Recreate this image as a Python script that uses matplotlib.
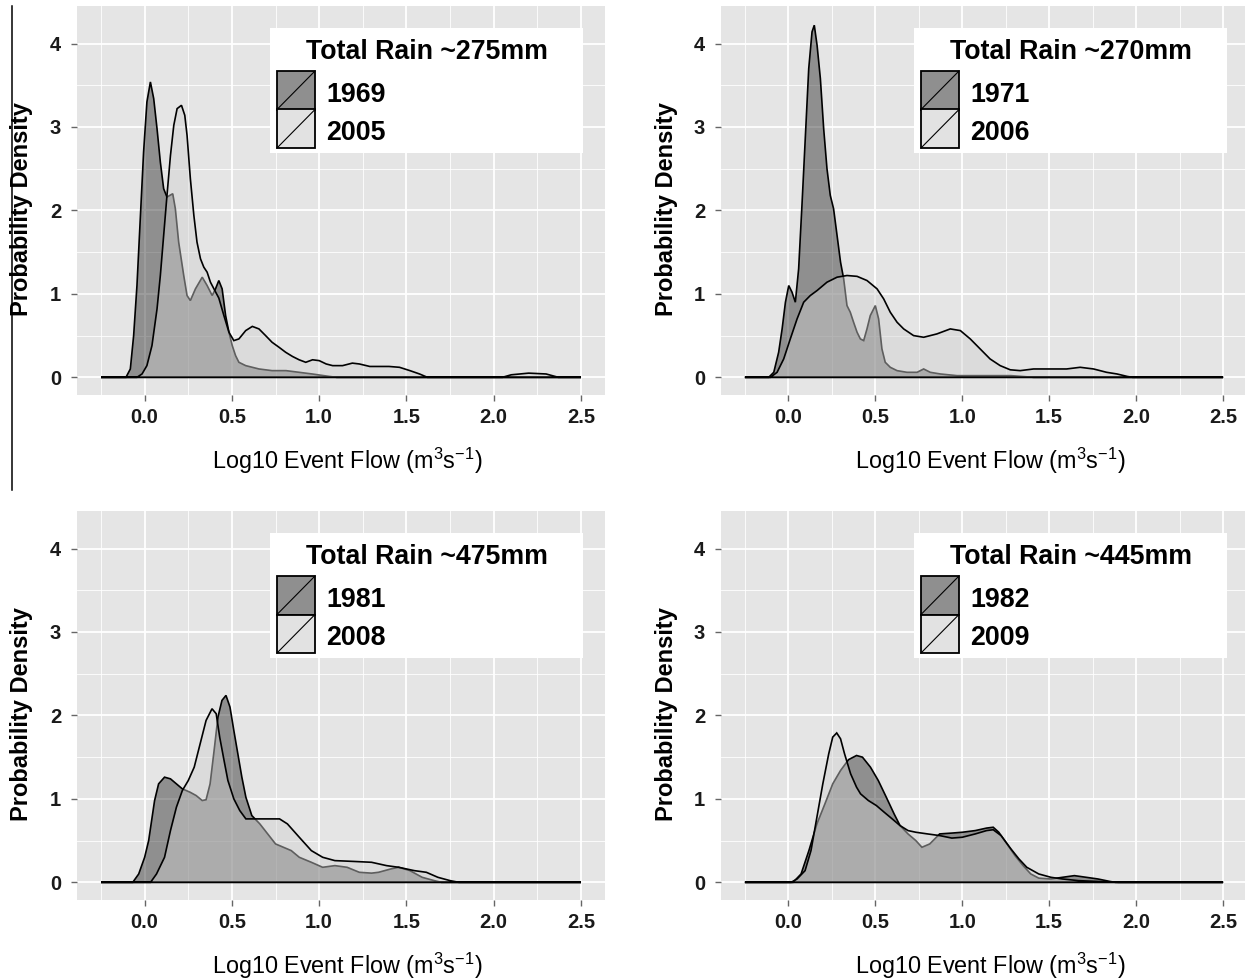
import matplotlib
matplotlib.use("Agg")
import matplotlib.pyplot as plt
from matplotlib.patches import Rectangle
from matplotlib.lines import Line2D

plt.rcParams['font.family'] = ['Liberation Sans', 'DejaVu Sans']
plt.rcParams['mathtext.fontset'] = 'custom'
plt.rcParams['mathtext.rm'] = 'Liberation Sans'
plt.rcParams['mathtext.it'] = 'Liberation Sans:italic'
plt.rcParams['mathtext.bf'] = 'Liberation Sans:bold'

# ---------------- data ----------------
rain_titles = ["Total Rain ~275mm", "Total Rain ~270mm", "Total Rain ~475mm", "Total Rain ~445mm"]
years_old = ["1969", "1971", "1981", "1982"]
years_new = ["2005", "2006", "2008", "2009"]

x_1969 = [-0.25, -0.107, -0.082, -0.063, -0.044, -0.025, -0.006, 0.013, 0.033, 0.052, 0.071, 0.09, 0.109,
          0.128, 0.144, 0.161, 0.176, 0.195, 0.224, 0.243, 0.262, 0.291, 0.33, 0.358, 0.387, 0.406, 0.425,
          0.444, 0.464, 0.483, 0.502, 0.521, 0.54, 0.579, 0.655, 0.73, 0.81, 0.885, 0.96, 1.06, 1.1, 2.5]
y_1969 = [0, 0, 0.1, 0.5, 1.1, 1.9, 2.7, 3.3, 3.54, 3.34, 2.98, 2.58, 2.26,
          2.16, 2.18, 2.2, 2.02, 1.62, 1.22, 0.98, 0.92, 1.06, 1.2, 1.1, 0.98, 1.06, 1.16,
          1.06, 0.74, 0.54, 0.38, 0.26, 0.18, 0.14, 0.1, 0.08, 0.08, 0.06, 0.04, 0.01, 0, 0]

x_2005 = [-0.25, -0.044, -0.015, 0.013, 0.042, 0.071, 0.09, 0.109, 0.128, 0.148, 0.167, 0.186, 0.211, 0.23,
          0.243, 0.262, 0.282, 0.3, 0.32, 0.339, 0.358, 0.377, 0.397, 0.425, 0.454, 0.483, 0.511, 0.54,
          0.579, 0.617, 0.655, 0.693, 0.73, 0.77, 0.808, 0.847, 0.885, 0.923, 0.962, 1.0, 1.04, 1.077,
          1.134, 1.19, 1.23, 1.29, 1.345, 1.4, 1.46, 1.52, 1.575, 1.62, 2.05, 2.1, 2.2, 2.3, 2.37, 2.5]
y_2005 = [0, 0, 0.04, 0.14, 0.38, 0.82, 1.22, 1.7, 2.18, 2.66, 3.02, 3.22, 3.26, 3.14,
          2.9, 2.38, 1.94, 1.62, 1.42, 1.32, 1.26, 1.14, 1.06, 0.95, 0.74, 0.54, 0.44, 0.46,
          0.56, 0.61, 0.58, 0.5, 0.42, 0.36, 0.3, 0.25, 0.21, 0.18, 0.21, 0.2, 0.16, 0.14,
          0.14, 0.17, 0.16, 0.13, 0.13, 0.13, 0.12, 0.08, 0.04, 0, 0, 0.03, 0.05, 0.04, 0, 0]

x_1971 = [-0.25, -0.113, -0.084, -0.056, -0.036, -0.017, 0.002, 0.021, 0.04, 0.059, 0.079, 0.098, 0.117,
          0.136, 0.149, 0.165, 0.184, 0.203, 0.222, 0.241, 0.26, 0.28, 0.3, 0.318, 0.337, 0.356, 0.375,
          0.395, 0.414, 0.433, 0.452, 0.471, 0.5, 0.519, 0.538, 0.557, 0.586, 0.625, 0.682, 0.74, 0.778,
          0.816, 0.874, 0.97, 1.12, 1.28, 1.41, 2.5]
y_1971 = [0, 0, 0.06, 0.3, 0.58, 0.9, 1.1, 1.02, 0.9, 1.3, 2.1, 2.9, 3.7,
          4.14, 4.22, 3.98, 3.58, 2.98, 2.5, 2.18, 2.02, 1.7, 1.38, 1.18, 0.86, 0.78, 0.66,
          0.54, 0.46, 0.44, 0.58, 0.74, 0.86, 0.7, 0.34, 0.18, 0.12, 0.08, 0.06, 0.06, 0.1,
          0.06, 0.04, 0.02, 0.02, 0.02, 0, 0]

x_2006 = [-0.25, -0.103, -0.065, -0.027, 0.011, 0.05, 0.088, 0.126, 0.165, 0.222, 0.28, 0.337, 0.395,
          0.452, 0.51, 0.548, 0.586, 0.625, 0.663, 0.72, 0.778, 0.854, 0.931, 0.989, 1.046, 1.103, 1.16,
          1.218, 1.276, 1.333, 1.41, 1.506, 1.6, 1.678, 1.755, 1.83, 1.89, 1.95, 1.98, 2.5]
y_2006 = [0, 0, 0.06, 0.22, 0.46, 0.7, 0.9, 0.98, 1.04, 1.14, 1.2, 1.22, 1.21,
          1.16, 1.06, 0.94, 0.78, 0.66, 0.58, 0.5, 0.48, 0.52, 0.58, 0.56, 0.46, 0.34, 0.22,
          0.14, 0.09, 0.08, 0.1, 0.1, 0.1, 0.12, 0.1, 0.06, 0.04, 0.01, 0, 0]

x_1981 = [-0.25, -0.068, -0.034, 0.0, 0.023, 0.057, 0.08, 0.114, 0.148, 0.182, 0.216, 0.26, 0.295, 0.33,
          0.352, 0.375, 0.398, 0.42, 0.443, 0.466, 0.489, 0.511, 0.534, 0.557, 0.58, 0.614, 0.66, 0.705,
          0.75, 0.795, 0.84, 0.886, 0.955, 1.02, 1.09, 1.16, 1.23, 1.3, 1.34, 1.41, 1.455, 1.52, 1.59,
          1.66, 1.7, 2.5]
y_1981 = [0, 0, 0.1, 0.3, 0.5, 0.98, 1.18, 1.26, 1.24, 1.18, 1.12, 1.08, 1.04, 0.98,
          0.99, 1.18, 1.58, 1.98, 2.18, 2.24, 2.1, 1.82, 1.54, 1.26, 1.02, 0.8, 0.7, 0.58,
          0.46, 0.42, 0.38, 0.3, 0.24, 0.18, 0.2, 0.18, 0.12, 0.11, 0.12, 0.16, 0.18, 0.14, 0.06,
          0.02, 0, 0]

x_2008 = [-0.25, 0.034, 0.068, 0.114, 0.148, 0.182, 0.216, 0.25, 0.284, 0.318, 0.352, 0.386, 0.41, 0.43,
          0.455, 0.477, 0.511, 0.545, 0.58, 0.636, 0.705, 0.773, 0.818, 0.886, 0.955, 1.02, 1.09, 1.2,
          1.3, 1.386, 1.455, 1.545, 1.614, 1.68, 1.75, 1.8, 2.5]
y_2008 = [0, 0, 0.1, 0.3, 0.62, 0.9, 1.1, 1.22, 1.38, 1.66, 1.94, 2.08, 2.02, 1.74,
          1.46, 1.22, 1.0, 0.86, 0.76, 0.76, 0.76, 0.76, 0.7, 0.54, 0.38, 0.3, 0.26, 0.25,
          0.24, 0.2, 0.18, 0.14, 0.12, 0.06, 0.02, 0, 0]

x_1982 = [-0.25, 0.027, 0.073, 0.118, 0.164, 0.21, 0.255, 0.3, 0.346, 0.392, 0.426, 0.472, 0.517, 0.563,
          0.608, 0.642, 0.688, 0.733, 0.768, 0.813, 0.87, 0.94, 1.0, 1.075, 1.14, 1.178, 1.21, 1.257,
          1.303, 1.35, 1.394, 1.44, 1.51, 1.576, 1.645, 1.713, 1.78, 1.85, 1.88, 2.5]
y_1982 = [0, 0, 0.1, 0.38, 0.7, 0.94, 1.18, 1.34, 1.47, 1.52, 1.5, 1.38, 1.22, 1.02,
          0.82, 0.68, 0.58, 0.5, 0.42, 0.46, 0.58, 0.59, 0.6, 0.62, 0.65, 0.66, 0.6, 0.46,
          0.32, 0.2, 0.1, 0.05, 0.04, 0.06, 0.08, 0.06, 0.04, 0.01, 0, 0]

x_2009 = [-0.25, 0.016, 0.05, 0.096, 0.13, 0.164, 0.198, 0.232, 0.255, 0.278, 0.3, 0.323, 0.358, 0.392,
          0.415, 0.46, 0.506, 0.551, 0.597, 0.642, 0.688, 0.733, 0.8, 0.87, 0.94, 1.0, 1.075, 1.14,
          1.178, 1.223, 1.28, 1.326, 1.371, 1.44, 1.51, 1.576, 1.668, 1.78, 1.9, 2.5]
y_2009 = [0, 0, 0.04, 0.14, 0.38, 0.78, 1.18, 1.54, 1.74, 1.79, 1.72, 1.54, 1.3, 1.14,
          1.06, 0.98, 0.92, 0.84, 0.76, 0.68, 0.62, 0.6, 0.58, 0.56, 0.53, 0.54, 0.58, 0.62,
          0.63, 0.56, 0.4, 0.28, 0.18, 0.1, 0.06, 0.04, 0.02, 0.01, 0, 0]

x_ticks = [0.0, 0.5, 1.0, 1.5, 2.0, 2.5]
x_tick_labels = ["0.0", "0.5", "1.0", "1.5", "2.0", "2.5"]
y_ticks = [0, 1, 2, 3, 4]
y_tick_labels = ["0", "1", "2", "3", "4"]
x_minor = [-0.25, 0.25, 0.75, 1.25, 1.75, 2.25]
y_minor = [0.5, 1.5, 2.5, 3.5]
x_label = r"Log10 Event Flow (m$^3$s$^{-1}$)"
y_label = "Probability Density"

panels = [
    (rain_titles[0], years_old[0], years_new[0], x_1969, y_1969, x_2005, y_2005),
    (rain_titles[1], years_old[1], years_new[1], x_1971, y_1971, x_2006, y_2006),
    (rain_titles[2], years_old[2], years_new[2], x_1981, y_1981, x_2008, y_2008),
    (rain_titles[3], years_old[3], years_new[3], x_1982, y_1982, x_2009, y_2009),
]

# ---------------- style / layout ----------------
W, H = 1245, 980
DPI = 100
BG = '#e5e5e5'
DARK = (40/255, 40/255, 40/255, 0.45)
LIGHT = (209/255, 209/255, 209/255, 0.45)
KEY_DARK = '#8f8f8f'
KEY_LIGHT = '#e2e2e2'

# axes rectangles in pixels: (left, top, width, height)
rects = [(77, 6, 528, 389), (721, 6, 526, 389), (77, 511, 528, 389), (721, 511, 526, 389)]

fig = plt.figure(figsize=(W / DPI, H / DPI), dpi=DPI)
fig.patch.set_facecolor('white')

for (title, lab_old, lab_new, xo, yo, xn, yn), (l, t, w, h) in zip(panels, rects):
    ax = fig.add_axes([l / W, 1 - (t + h) / H, w / W, h / H])
    ax.set_facecolor(BG)
    for s in ax.spines.values():
        s.set_visible(False)
    ax.set_xlim(-0.3875, 2.6375)
    ax.set_ylim(-0.212, 4.45)

    # grid
    for xv in x_minor:
        ax.axvline(xv, color='white', lw=0.6, zorder=0.5)
    for yv in y_minor:
        ax.axhline(yv, color='white', lw=0.6, zorder=0.5)
    for xv in x_ticks:
        ax.axvline(xv, color='white', lw=1.3, zorder=0.6)
    for yv in y_ticks:
        ax.axhline(yv, color='white', lw=1.3, zorder=0.6)

    ax.fill(xo, yo, facecolor=DARK, edgecolor='black', lw=1.2, zorder=2)
    ax.fill(xn, yn, facecolor=LIGHT, edgecolor='black', lw=1.2, zorder=3)

    ax.set_xticks(x_ticks)
    ax.set_xticklabels(x_tick_labels, fontsize=14.5, fontweight='bold', color='#1a1a1a')
    ax.set_yticks(y_ticks)
    ax.set_yticklabels(y_tick_labels, fontsize=14.5, fontweight='bold', color='#1a1a1a')
    ax.tick_params(axis='both', direction='out', length=4.5, width=1.0, color='#666666')
    ax.tick_params(axis='x', pad=5)
    ax.tick_params(axis='y', pad=7)

    # axis titles
    fig.text((l + w / 2 + 6) / W, 1 - (t + h + 66) / H, x_label, ha='center', va='center', fontsize=16.8)
    fig.text((l - 55) / W, 1 - (t + h / 2 + 9) / H, y_label, ha='center', va='center',
             rotation=90, fontsize=17, fontweight='bold')

    # legend drawn in axes pixel offsets
    def fx(px):
        return px / w

    def fy(py):
        return 1 - py / h

    bl, bt, bw, bh = 193, 22, 313, 125
    ax.add_patch(Rectangle((fx(bl), fy(bt + bh)), fx(bw), bh / h, transform=ax.transAxes,
                           facecolor='white', edgecolor='none', zorder=5, clip_on=False))
    ax.text(fx(bl + bw / 2), fy(bt + 31.3), title, transform=ax.transAxes, ha='center',
            va='baseline', fontsize=19.3, fontweight='bold', zorder=6)
    for i, (lab, col) in enumerate([(lab_old, KEY_DARK), (lab_new, KEY_LIGHT)]):
        ktop = bt + 43 + i * 38.5
        kl = bl + 7
        ax.add_patch(Rectangle((fx(kl), fy(ktop + 38.5)), fx(38), 38.5 / h, transform=ax.transAxes,
                               facecolor=col, edgecolor='black', lw=1.3, zorder=6, clip_on=False))
        ax.add_line(Line2D([fx(kl), fx(kl + 38)], [fy(ktop + 38.5), fy(ktop)], transform=ax.transAxes,
                           color='black', lw=0.8, zorder=7, clip_on=False))
        ax.text(fx(bl + 56), fy(ktop + 30.5), lab, transform=ax.transAxes, ha='left', va='baseline',
                fontsize=19.3, fontweight='bold', zorder=7)

# stray vertical rule at the left edge of the reference
fig.add_artist(Line2D([12 / W, 12 / W], [1 - 6 / H, 1 - 490 / H], color='black', lw=1.1))

fig.savefig('out.png', dpi=DPI, facecolor='white')
